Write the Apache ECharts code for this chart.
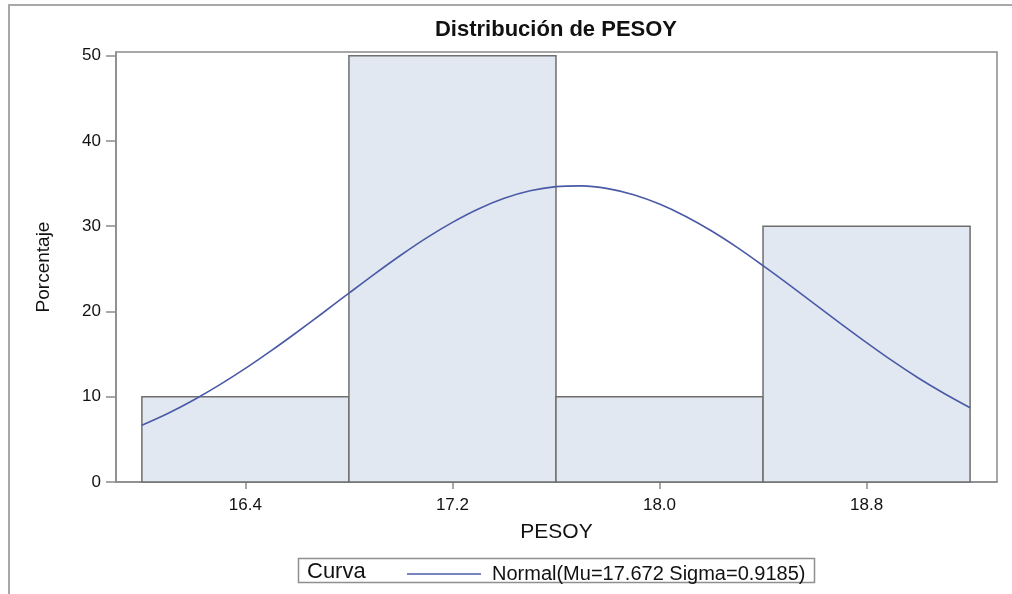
<!DOCTYPE html>
<html>
<head>
<meta charset="utf-8">
<title>Distribución de PESOY</title>
<script src="https://cdn.jsdelivr.net/npm/echarts@6/dist/echarts.min.js"></script>
<style>
  html, body { margin: 0; padding: 0; background: #ffffff; }
  #chart { width: 1012px; height: 594px; }
</style>
</head>
<body>
<div id="chart"></div>
<script>
// Histogram bins (midpoints) and the share of observations in each one
const binMidpoints = [16.4, 17.2, 18.0, 18.8];
const binWidth = 0.8;
const percentages = [10, 50, 10, 30];

// Fitted normal curve, sampled along PESOY
const curveX = [16.0, 16.1, 16.2, 16.3, 16.4, 16.5, 16.6, 16.7, 16.8, 16.9,
                17.0, 17.1, 17.2, 17.3, 17.4, 17.5, 17.6, 17.7, 17.8, 17.9,
                18.0, 18.1, 18.2, 18.3, 18.4, 18.5, 18.6, 18.7, 18.8, 18.9,
                19.0, 19.1, 19.2];
const curveY = [6.65, 8.03, 9.62, 11.39, 13.32, 15.40, 17.59, 19.85, 22.14, 24.41,
                26.59, 28.63, 30.45, 32.02, 33.27, 34.15, 34.64, 34.73, 34.41, 33.70,
                32.60, 31.17, 29.46, 27.51, 25.37, 23.15, 20.86, 18.58, 16.35, 14.20,
                12.20, 10.38, 8.71];

// Axis ticks
const xTicks = [16.4, 17.2, 18.0, 18.8];
const yTicks = [0, 10, 20, 30, 40, 50];

const titleText = 'Distribución de PESOY';
const xName = 'PESOY';
const yName = 'Porcentaje';
const curveName = 'Normal(Mu=17.672 Sigma=0.9185)';
const legendTitle = 'Curva';

const bins = binMidpoints.map((m, i) => [m - binWidth / 2, m + binWidth / 2, percentages[i]]);
const curve = curveX.map((x, i) => [x, curveY[i]]);

const FONT = "'Liberation Sans', Arial, sans-serif";
const AXIS_GREY = '#8a8a8a';
const CURVE_BLUE = '#4a5aa6';

const chart = echarts.init(document.getElementById('chart'), null, { renderer: 'canvas' });

chart.setOption({
  animation: false,
  backgroundColor: '#ffffff',
  title: {
    text: titleText,
    left: 551,
    top: 14,
    textAlign: 'center',
    textStyle: { fontFamily: FONT, fontSize: 22, fontWeight: 'bold', color: '#111' }
  },
  grid: {
    left: 116, right: 15, top: 52, bottom: 112,
    show: true, borderColor: AXIS_GREY, borderWidth: 1.5, backgroundColor: 'transparent'
  },
  legend: {
    data: [{ name: curveName, icon: 'rect', itemStyle: { color: CURVE_BLUE } }],
    left: 402,
    top: 559,
    itemWidth: 74,
    itemHeight: 1.6,
    textStyle: { fontFamily: FONT, fontSize: 20, color: '#111', padding: [0, 0, 0, 6] },
    selectedMode: false
  },
  xAxis: {
    type: 'value',
    min: 15.9,
    max: 19.304,
    name: xName,
    nameLocation: 'middle',
    nameGap: 40,
    nameTextStyle: { fontFamily: FONT, fontSize: 21, color: '#111' },
    axisLine: { show: true, lineStyle: { color: AXIS_GREY, width: 1.5 } },
    axisTick: { show: true, length: 7, customValues: xTicks, lineStyle: { color: AXIS_GREY, width: 1.5 } },
    axisLabel: {
      customValues: xTicks,
      margin: 15,
      fontFamily: FONT, fontSize: 17, color: '#111',
      formatter: v => v.toFixed(1)
    },
    splitLine: { show: false }
  },
  yAxis: {
    type: 'value',
    min: 0,
    max: 50.43,
    name: yName,
    nameLocation: 'middle',
    nameGap: 63,
    nameRotate: 90,
    nameTextStyle: { fontFamily: FONT, fontSize: 19, color: '#111' },
    axisLine: { show: true, lineStyle: { color: AXIS_GREY, width: 1.5 } },
    axisTick: { show: true, length: 10, customValues: yTicks, lineStyle: { color: AXIS_GREY, width: 1.5 } },
    axisLabel: { customValues: yTicks, margin: 15, fontFamily: FONT, fontSize: 17, color: '#111' },
    splitLine: { show: false }
  },
  graphic: [
    // outer frame of the output
    {
      type: 'polyline', silent: true, z: 100,
      shape: { points: [[9, 594], [9, 5], [1012, 5]] },
      style: { stroke: '#a8a8a8', lineWidth: 2, fill: null }
    },
    // legend box
    {
      type: 'rect', silent: true, z: 1,
      shape: { x: 298.5, y: 558.5, width: 516, height: 24 },
      style: { stroke: '#8f8f8f', lineWidth: 1.5, fill: '#ffffff' }
    },
    {
      type: 'text', silent: true, z: 2,
      x: 307, y: 571.5,
      style: { text: legendTitle, fontFamily: FONT, fontSize: 22, fill: '#111', verticalAlign: 'middle' }
    }
  ],
  series: [
    {
      type: 'custom',
      name: 'Histograma',
      data: bins,
      encode: { x: [0, 1], y: 2 },
      renderItem: function (params, api) {
        const p0 = api.coord([api.value(0), 0]);
        const p1 = api.coord([api.value(1), api.value(2)]);
        return {
          type: 'rect',
          shape: { x: p0[0], y: p1[1], width: p1[0] - p0[0], height: p0[1] - p1[1] },
          style: { fill: '#e1e8f1', stroke: '#6e6e6e', lineWidth: 1.5 }
        };
      },
      z: 2
    },
    {
      type: 'line',
      name: curveName,
      data: curve,
      smooth: 0.3,
      symbol: 'none',
      lineStyle: { color: CURVE_BLUE, width: 1.6 },
      itemStyle: { color: CURVE_BLUE },
      z: 3
    }
  ]
});
</script>
</body>
</html>
